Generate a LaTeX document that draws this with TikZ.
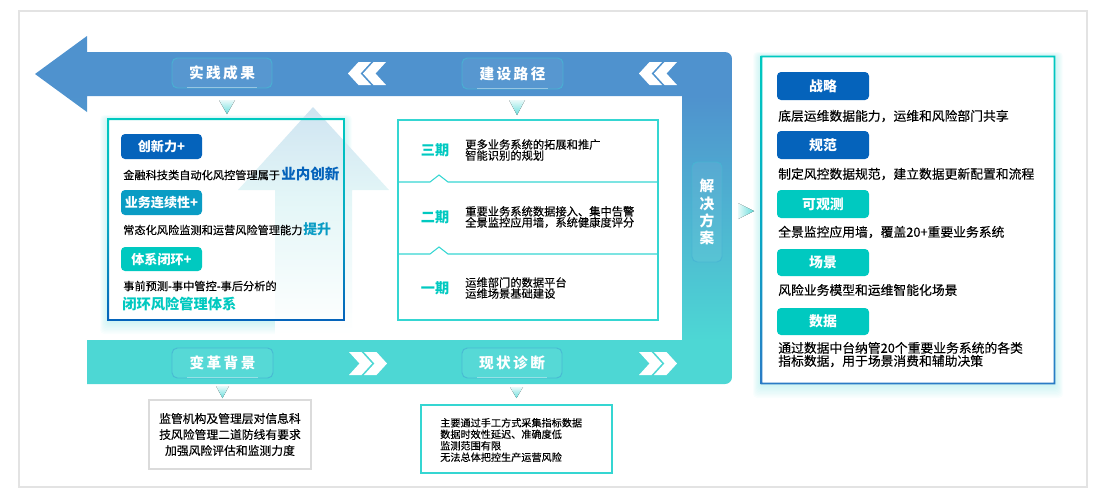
\documentclass[tikz,border=0pt]{standalone}
\usepackage{fontspec}
\setmainfont{Noto Sans CJK SC}[FakeBold=0.2,BoldFeatures={FakeBold=0}]
\definecolor{bandblue}{HTML}{4F92CE}
\definecolor{bandteal}{HTML}{4DD7D4}
\definecolor{navy}{HTML}{0563BB}
\definecolor{midblue}{HTML}{0A9CC4}
\definecolor{teal}{HTML}{00C9C0}
\definecolor{tealline}{HTML}{35D6D2}
\definecolor{glowc}{HTML}{4FD8D6}
\definecolor{upa}{HTML}{CFE4F1}
\definecolor{upb}{HTML}{E3F6F7}
\pgfdeclareverticalshading{bandshade}{100bp}{color(0bp)=(bandteal); color(31.3bp)=(bandteal); color(66.4bp)=(bandblue); color(100bp)=(bandblue)}
\pgfdeclareverticalshading{upshade}{100bp}{color(0bp)=(white); color(25bp)=(white); color(55bp)=(upb); color(75bp)=(upa); color(100bp)=(upa)}
\newcommand\fsz[2]{\fontsize{#1}{#2}\selectfont}
\def\bsz{9.8pt}
\tikzset{
  small/.style={font={\fsz{8.4pt}{8.4pt}}},
  txt/.style={anchor=west,inner sep=0pt,align=left,text=black},
  chevron/.style={fill=white},
  tri/.style={top color=glowc!12!white,bottom color=glowc!85!white,draw=none},
  trir/.style={left color=glowc!12!white,right color=glowc!90!white,draw=none},
  phase/.style={anchor=center,inner sep=0pt,text=teal,font={\fsz{10.6pt}{10.6pt}\bfseries}},
  lbltext/.style={anchor=center,inner sep=0pt,text=white,align=center,font={\fsz{11pt}{12.8pt}\bfseries}},
}
% glow behind a box
\newcommand\glowbox[4]{%
  \foreach \g in {1,...,10}{
    \fill[glowc,opacity=0.03,rounded corners=3pt] ({#1-\g*0.8},{#2-\g*0.4}) rectangle ({#3+\g*0.8},{#4+\g*1.4});
  }}
% rounded coloured badge
\newcommand\badge[7]{%
  \node[fill=#6,rounded corners=3pt,inner sep=0pt,text=white,
        minimum width={(#4-#2)*0.75pt},minimum height={(#5-#3)*0.75pt},
        font={\fsz{\bsz}{\bsz}\bfseries}] (#1) at ({(#2+#4)/2},{(#3+#5)/2}) {#7};}
% band label
\newcommand\lbl[7]{%
  \fill[white,opacity=0.05,rounded corners=4pt] (#2,#3) rectangle (#4,#5);
  \draw[midblue!75!white,line width=0.7pt,rounded corners=4pt,opacity=0.85] (#2,#3) rectangle (#4,#5);
  \node[lbltext] (#1) at ({(#2+#4)/2},{(#3+#5)/2}) {#7};
  #6}
% double chevron; #3 = 1 right, -1 left
\newcommand\chev[3]{%
  \foreach \o in {0,15}{
    \fill[chevron] ({#1+#3*\o},#2) -- ({#1+#3*(\o+12.5)},#2) -- ({#1+#3*(\o+23)},{#2+11.5}) -- ({#1+#3*(\o+12.5)},{#2+23}) -- ({#1+#3*\o},{#2+23}) -- ({#1+#3*(\o+10.5)},{#2+11.5}) -- cycle;
  }}
\begin{document}
\begin{tikzpicture}[x=0.75pt,y=-0.75pt]
\useasboundingbox (0,0) rectangle (1106,501);
% outer frame
\draw[black!11,line width=0.8pt] (19,11) rectangle (1087,487);
% band with arrow
\path[shading=bandshade]
  (35,74) -- (87,36) -- (87,52) -- (725,52) to[out=0,in=90] (732,59) -- (732,377) to[out=-90,in=0] (725,384)
  -- (87,384) -- (87,340) -- (682,340) -- (682,96) -- (87,96) -- (87,112) -- cycle;
% glows and panels
\glowbox{108}{119}{344}{320}
\fill[white] (108,119) rectangle (344,320);
\glowbox{761}{56}{1055}{384}
\fill[white] (761,56) rectangle (1055,384);
% big pale up arrow
\path[shading=upshade] (313,107) -- (389,190) -- (352,190) -- (352,335) -- (275,335) -- (275,190) -- (238,190) -- cycle;
% box borders
\shade[even odd rule,top color=teal,bottom color=navy,middle color=midblue!70!teal] (107.2,118.2) rectangle (344.8,320.8) (109,120) rectangle (343,319);
\shade[even odd rule,top color=teal,bottom color=navy!85!white,middle color=midblue!70!teal] (760.7,55.7) rectangle (1055.3,384.3) (762.3,57.3) rectangle (1053.7,382.7);
% labels on band
\lbl{lsj}{172}{58}{272}{88}{\fill[white,opacity=0.4] (187,87.4) rectangle (257,88.4);}{实\,践\,成\,果}
\lbl{ljs}{462}{58}{563}{89}{\fill[white,opacity=0.4] (477,88.4) rectangle (548,89.4);}{建\,设\,路\,径}
\lbl{lbg}{172}{348}{273}{378}{\fill[white,opacity=0.4] (187,377.4) rectangle (258,378.4);}{变\,革\,背\,景}
\lbl{lxz}{462}{348}{562}{378}{\fill[white,opacity=0.4] (477,377.4) rectangle (547,378.4);}{现\,状\,诊\,断}
\lbl{ljj}{692}{162}{722}{262}{}{解\\决\\方\\案}
% chevrons
\chev{386}{62}{-1}
\chev{677}{62}{-1}
\chev{349}{352}{1}
\chev{639}{352}{1}
% small triangles
\fill[tri] (219,100) -- (235,100) -- (227,114) -- cycle;
\fill[tri] (509,100) -- (525,100) -- (517,115) -- cycle;
\fill[tri] (216,386) -- (229,386) -- (222.5,398) -- cycle;
\fill[tri] (510,387) -- (523,387) -- (516.5,398) -- cycle;
\fill[trir] (738,203) -- (754,211) -- (738,219) -- cycle;
% left panel
\badge{ba}{121}{134}{202}{159}{navy}{创新力+}
\node[txt,small] (ta) at (123,175) {金融科技类自动化风控管理属于};
\node[txt,text=navy,font={\fsz{10.9pt}{10.9pt}\bfseries}] (tb) at (281,174) {业内创新};
\badge{bb}{121}{190}{202}{215}{midblue}{业务连续性+}
\node[txt,small] (tc) at (123,230) {常态化风险监测和运营风险管理能力};
\node[txt,text=midblue,font={\fsz{10.4pt}{10.4pt}\bfseries}] (td) at (303,229) {提升};
\badge{bc}{121}{247}{202}{271}{teal}{体系闭环+}
\node[txt,small] (te) at (123,286) {事前预测-事中管控-事后分析的};
\node[txt,text=teal,font={\fsz{10.7pt}{10.7pt}\bfseries}] (tf) at (122,304) {闭环风险管理体系};
% phases box
\draw[tealline,line width=0.9pt] (398,120) rectangle (658,320);
\draw[draw=tealline,line width=0.8pt] (398,182) -- (430,182) -- (439,175) -- (448,182) -- (658,182);
\draw[draw=tealline,line width=0.8pt] (398,254) -- (430,254) -- (439,247) -- (448,254) -- (658,254);
\node[phase] (p3) at (435,150) {三期};
\node[phase] (p2) at (435,217) {二期};
\node[phase] (p1) at (435,288) {一期};
\node[txt,font={\fsz{8.45pt}{8.25pt}}] (q3) at (465,150) {更多业务系统的拓展和推广\\智能识别的规划};
\node[txt,font={\fsz{8.45pt}{8.25pt}}] (q2) at (465,217) {重要业务系统数据接入、集中告警\\全景监控应用墙，系统健康度评分};
\node[txt,font={\fsz{8.45pt}{8.25pt}}] (q1) at (465,288) {运维部门的数据平台\\运维场景基础建设};
% lower boxes
\node[draw=black!14,line width=1pt,inner sep=0pt,minimum width=121.5pt,minimum height=51.75pt,align=center,text=black,font={\fsz{8.85pt}{12pt}}] (bgbox) at (230,434.5) {监管机构及管理层对信息科\\技风险管理二道防线有要求\\加强风险评估和监测力度};
\draw[tealline,line width=0.9pt] (421,405) rectangle (612,473);
\node[txt,font={\fsz{7.6pt}{8.6pt}}] (xzbox) at (440,440) {主要通过手工方式采集指标数据\\数据时效性延迟、准确度低\\监测范围有限\\无法总体把控生产运营风险};
% right panel
\def\bsz{10.4pt}
\badge{r1}{777}{72}{869}{100}{navy}{战略}
\node[txt,font={\fsz{9.6pt}{9.6pt}}] (s1) at (778,116) {底层运维数据能力，运维和风险部门共享};
\badge{r2}{777}{131}{869}{159}{navy}{规范}
\node[txt,font={\fsz{9.6pt}{9.6pt}}] (s2) at (778,174) {制定风控数据规范，建立数据更新配置和流程};
\badge{r3}{777}{190}{869}{218}{teal}{可观测}
\node[txt,font={\fsz{9.6pt}{9.6pt}}] (s3) at (778,232) {全景监控应用墙，覆盖20+重要业务系统};
\badge{r4}{777}{249}{869}{276}{teal}{场景}
\node[txt,font={\fsz{9.6pt}{9.6pt}}] (s4) at (778,290) {风险业务模型和运维智能化场景};
\badge{r5}{777}{308}{869}{335}{teal}{数据}
\node[txt,font={\fsz{9.6pt}{9.75pt}}] (s5) at (778,354.5) {通过数据中台纳管20个重要业务系统的各类\\指标数据，用于场景消费和辅助决策};
\end{tikzpicture}
\end{document}
